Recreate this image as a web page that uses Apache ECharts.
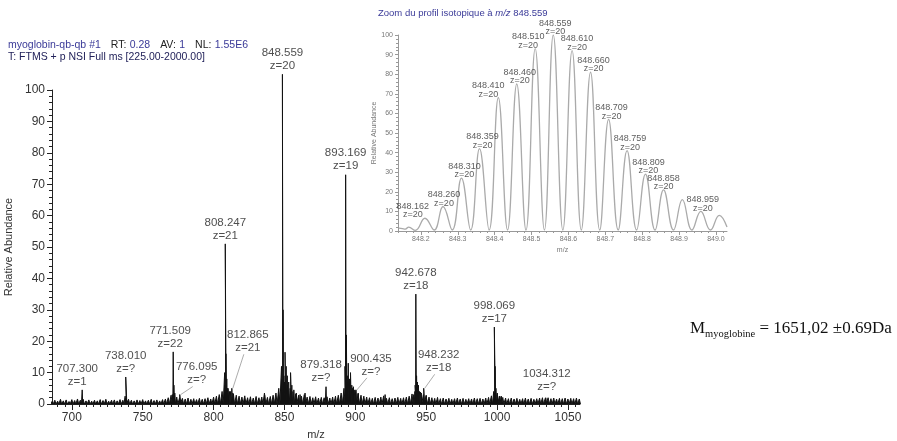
<!DOCTYPE html>
<html><head><meta charset="utf-8">
<script src="https://cdn.jsdelivr.net/npm/echarts@6/dist/echarts.min.js"></script>
<style>html,body{margin:0;padding:0;background:#fff}#c{width:897px;height:441px}</style>
</head><body><div id="c"></div>
<script>
// ---------- DATA ----------
// labelled peaks of the full spectrum (the base peak is drawn slightly above the 100 tick in the picture)
const labelledMz     = [707.300, 738.010, 771.509, 776.095, 808.247, 812.865, 848.559, 879.318, 893.169, 900.435, 942.678, 948.232, 998.069, 1034.312];
const labelledAbund  = [4.5, 8.6, 16.6, 3.0, 51.0, 5.0, 105, 5.5, 73.0, 4.5, 35.0, 5.0, 24.5, 2.0];
const labelledText   = ['707.300','738.010','771.509','776.095','808.247','812.865','848.559','879.318','893.169','900.435','942.678','948.232','998.069','1034.312'];
const labelledCharge = ['z=1','z=?','z=22','z=?','z=21','z=21','z=20','z=?','z=19','z=?','z=18','z=18','z=17','z=?'];
// unlabelled satellite peaks
const satelliteMz    = [737.6, 770.9, 772.0, 772.6, 807.8, 808.7, 809.3, 810.1, 811.2, 813.6, 835.9, 847.9, 849.0, 849.6, 850.4, 851.2, 852.0, 853.0, 854.3, 855.2, 856.6, 858.3, 861.0, 864.5, 892.7, 893.7, 894.3, 895.0, 895.8, 896.6, 897.5, 898.6, 899.6, 902.0, 921.0, 941.2, 942.2, 943.2, 943.8, 944.5, 945.3, 946.5, 950.0, 997.6, 998.6, 999.2, 1000.1, 1001.6, 1003.0];
const satelliteAbund = [2.5, 3.0, 6.0, 3.5, 10.0, 16.0, 8.0, 5.0, 4.0, 3.5, 3.5, 12.0, 30.0, 9.0, 16.5, 12.0, 9.0, 7.0, 10.0, 6.0, 4.5, 3.5, 3.0, 3.5, 12.0, 22.0, 9.0, 13.0, 8.0, 10.0, 6.0, 5.5, 4.5, 3.5, 3.0, 3.0, 6.0, 9.0, 7.0, 6.0, 4.0, 3.5, 2.8, 4.0, 12.0, 5.0, 3.5, 2.5, 2.5];
// baseline noise, sampled every 2 m/z from 686
const noiseFirstMz = 686, noiseStepMz = 2;
const noiseAbund = [
 0.8,1.2,0.9,1.5,1.0,1.3,0.8,1.4,1.1,1.6,
 1.2,1.5,1.0,1.3,0.9,1.2,1.0,1.4,1.1,1.5,
 0.9,1.2,1.3,1.0,1.4,1.2,1.8,1.5,1.2,1.0,
 1.3,1.1,1.4,1.0,1.2,1.5,1.1,1.3,1.0,1.4,
 1.6,2.0,2.8,3.0,2.2,2.0,1.8,1.6,1.9,1.5,
 1.7,1.4,1.8,1.5,1.7,2.0,1.6,2.2,2.5,3.0,
 4.0,6.0,5.0,4.0,3.2,2.8,2.5,2.2,2.6,2.0,
 2.3,1.9,2.4,2.0,2.2,3.0,2.1,2.4,2.8,3.5,
 5.0,8.0,7.0,6.0,5.0,4.0,3.2,2.8,2.5,3.0,
 2.2,2.4,2.0,2.3,1.9,2.1,2.0,2.3,1.9,2.2,
 2.5,2.8,3.5,5.0,7.0,6.0,5.0,4.0,3.2,2.8,
 2.5,2.2,2.0,1.8,2.1,1.9,2.2,2.6,1.8,2.0,
 1.7,1.9,2.1,1.8,2.0,2.2,2.5,3.2,4.0,5.0,
 3.8,3.0,2.6,2.2,2.0,1.8,2.1,1.7,1.9,1.6,
 1.8,1.5,1.7,1.9,1.6,1.8,1.5,1.7,1.6,1.9,
 1.7,1.8,1.6,1.9,2.1,2.6,3.5,3.0,2.4,2.1,
 1.9,1.7,1.9,1.6,1.8,1.5,1.7,1.9,1.6,1.8,
 1.5,1.7,1.9,2.0,1.8,2.0,1.7,1.9,1.6,1.8,
 1.7,1.9,1.6,1.8,1.7,1.9,1.6];
const mainXLabels = [700, 750, 800, 850, 900, 950, 1000, 1050];
const mainYLabels = [0, 10, 20, 30, 40, 50, 60, 70, 80, 90, 100];

// isotopic profile (inset): valleys and apexes
const insetMz    = [848.140, 848.150, 848.158, 848.167, 848.185, 848.211, 848.236, 848.260, 848.285, 848.310, 848.335, 848.359, 848.385, 848.410, 848.435, 848.460, 848.485, 848.510, 848.535, 848.559, 848.585, 848.610, 848.635, 848.660, 848.685, 848.709, 848.735, 848.759, 848.785, 848.809, 848.835, 848.858, 848.885, 848.909, 848.935, 848.959, 848.985, 849.009, 849.030];
const insetAbund = [1.5, 1.2, 1.0, 2.0, 0.3, 6.5, 0.5, 12.5, 0.5, 27, 0.5, 42, 0.5, 68, 0.5, 75, 0.5, 93, 0.5, 100, 0.5, 92, 0.5, 81, 0.5, 57, 0.5, 41, 0.5, 29, 0.5, 21, 0.5, 16, 0.5, 10, 0.5, 8, 2];
const insetLabelMz    = [848.162, 848.260, 848.310, 848.359, 848.410, 848.460, 848.510, 848.559, 848.610, 848.660, 848.709, 848.759, 848.809, 848.858, 848.959];
const insetLabelAbund = [6.5, 12.5, 27, 42, 68, 75, 93, 100, 92, 81, 57, 41, 29, 21, 10];
const insetLabelText  = ['848.162','848.260','848.310','848.359','848.410','848.460','848.510','848.559','848.610','848.660','848.709','848.759','848.809','848.858','848.959'];
const insetLabelCharge = 'z=20';
const insetXLabels = [848.2, 848.3, 848.4, 848.5, 848.6, 848.7, 848.8, 848.9, 849.0];
const insetYLabels = [0, 10, 20, 30, 40, 50, 60, 70, 80, 90, 100];

// ---------- LAYOUT / STYLE ----------
const FONT = 'Liberation Sans, Arial, sans-serif';
// pixel offsets of the main annotations [dx, dy] and whether a leader line is drawn
const mainLabelLayout = {
  '707.300':[-5,0,false], '738.010':[0,0,false], '771.509':[-3,0,false], '776.095':[17,-6,true],
  '808.247':[0,0,false], '812.865':[16,-32,true], '848.559':[0,0,false], '879.318':[-5,0,false],
  '893.169':[0,0,false], '900.435':[15,-10,true], '942.678':[0,0,false], '948.232':[15,-12,true],
  '998.069':[0,0,false], '1034.312':[1,-2,false]
};
const insetLabelDx = [6,1,3,3,-10,3,-7,2,5,3,3,3,3,0,2];

// build stick spectrum
const sticks = [];
labelledMz.forEach((m,i)=>sticks.push([m, labelledAbund[i], 0.35]));
satelliteMz.forEach((m,i)=>sticks.push([m, satelliteAbund[i], 0.35]));
noiseAbund.forEach((v,i)=>sticks.push([noiseFirstMz + i*noiseStepMz, v, 0.8]));
sticks.sort((a,b)=>a[0]-b[0]);
const mainLine = [];
sticks.forEach(s=>{ mainLine.push([s[0]-s[2],0],[s[0],s[1]],[s[0]+s[2],0]); });

const minorMain = []; for (let v=690; v<=1055; v+=5) minorMain.push(v);
const minorInset = []; for (let k=0; k<=44; k++) minorInset.push(+(848.14 + k*0.02).toFixed(2));

const mainGrid = {left:52, top:90, width:528, height:314};
const insetGrid = {left:398, top:35, width:329, height:196};

const axisColor = '#222';
const insetAxisColor = '#999';

const option = {
  animation:false,
  textStyle:{fontFamily:FONT},
  grid:[
    Object.assign({outerBoundsMode:'none', containLabel:false}, mainGrid),
    Object.assign({outerBoundsMode:'none', containLabel:false}, insetGrid)
  ],
  xAxis:[
    {type:'value', gridIndex:0, position:'bottom', offset:0, min:686, max:1058.5, splitLine:{show:false},
     axisLine:{onZero:false, lineStyle:{color:axisColor, width:1}},
     axisTick:{customValues:minorMain, length:3, lineStyle:{color:axisColor}},
     axisLabel:{show:false}},
    {type:'value', gridIndex:0, position:'bottom', offset:0, min:686, max:1058.5, splitLine:{show:false},
     axisLine:{show:false, onZero:false},
     axisTick:{customValues:mainXLabels, length:6, lineStyle:{color:axisColor}},
     axisLabel:{customValues:mainXLabels, formatter:v=>String(v), color:'#333', fontSize:12, fontFamily:FONT, margin:8},
     name:'m/z', nameLocation:'middle', nameGap:25, nameTextStyle:{color:'#333', fontSize:11, fontFamily:FONT}},
    {type:'value', gridIndex:1, position:'bottom', offset:0, min:848.138, max:849.03, splitLine:{show:false},
     axisLine:{onZero:false, lineStyle:{color:insetAxisColor, width:1}},
     axisTick:{customValues:minorInset, length:2, lineStyle:{color:insetAxisColor}},
     axisLabel:{show:false}},
    {type:'value', gridIndex:1, position:'bottom', offset:0, min:848.138, max:849.03, splitLine:{show:false},
     axisLine:{show:false, onZero:false},
     axisTick:{customValues:insetXLabels, length:4, lineStyle:{color:insetAxisColor}},
     axisLabel:{customValues:insetXLabels, formatter:v=>v.toFixed(1), color:'#777', fontSize:7, fontFamily:FONT, margin:5},
     name:'m/z', nameLocation:'middle', nameGap:16, nameTextStyle:{color:'#777', fontSize:7, fontFamily:FONT}}
  ],
  yAxis:[
    {type:'value', gridIndex:0, position:'left', min:0, max:100, interval:10, splitLine:{show:false},
     axisLine:{show:true, onZero:false, lineStyle:{color:axisColor, width:1}},
     axisTick:{show:true, length:5, lineStyle:{color:axisColor}},
     minorTick:{show:true, splitNumber:5, length:3, lineStyle:{color:axisColor}},
     axisLabel:{color:'#333', fontSize:12, fontFamily:FONT, margin:7},
     name:'Relative Abundance', nameLocation:'middle', nameGap:32, nameRotate:90,
     nameTextStyle:{color:'#333', fontSize:11, fontFamily:FONT}},
    {type:'value', gridIndex:1, position:'left', min:0, max:100, interval:10, splitLine:{show:false},
     axisLine:{show:true, onZero:false, lineStyle:{color:insetAxisColor, width:1}},
     axisTick:{show:true, length:3, lineStyle:{color:insetAxisColor}},
     minorTick:{show:true, splitNumber:5, length:2, lineStyle:{color:insetAxisColor}},
     axisLabel:{color:'#777', fontSize:7, fontFamily:FONT, margin:5},
     name:'Relative Abundance', nameLocation:'middle', nameGap:18, nameRotate:90,
     nameTextStyle:{color:'#777', fontSize:7, fontFamily:FONT}}
  ],
  series:[
    {type:'line', xAxisIndex:0, yAxisIndex:0, data:mainLine, symbol:'none', silent:true, clip:false,
     lineStyle:{color:'#111', width:1}, areaStyle:{color:'#111', opacity:1}, z:3},
    {type:'scatter', xAxisIndex:0, yAxisIndex:0, symbolSize:0, silent:true, z:5, clip:false,
     data: labelledMz.map((m,i)=>{ const L = mainLabelLayout[labelledText[i]];
       return {value:[m, labelledAbund[i]], label:{offset:[L[0], L[1]]}}; }),
     label:{show:true, position:'top', distance:2, color:'#222', fontSize:11.5, fontFamily:FONT, lineHeight:13, align:'center',
            formatter:p=>labelledText[p.dataIndex]+'\n'+labelledCharge[p.dataIndex]}},
    {type:'line', xAxisIndex:2, yAxisIndex:1, data:insetMz.map((m,i)=>[m, insetAbund[i]]), symbol:'none', silent:true,
     smooth:0.45, lineStyle:{color:'#aaa', width:1.3}, z:3},
    {type:'scatter', xAxisIndex:2, yAxisIndex:1, symbolSize:0, silent:true, z:5,
     data: insetLabelMz.map((m,i)=>({value:[m, insetLabelAbund[i]], label:{offset:[insetLabelDx[i], 1]}})),
     label:{show:true, position:'top', distance:0, color:'#333', fontSize:9, fontFamily:FONT, lineHeight:8.5, align:'center',
            formatter:p=>insetLabelText[p.dataIndex]+'\n'+insetLabelCharge}}
  ],
  graphic:[
    {type:'text', left:8, top:39, style:{
      text:'{a|myoglobin-qb-qb #1}   {k|RT:} {a|0.28}   {k|AV:} {a|1}   {k|NL:} {a|1.55E6}',
      rich:{a:{fill:'#3a3a98', fontSize:10.5, fontFamily:FONT}, k:{fill:'#222', fontSize:10.5, fontFamily:FONT}}}},
    {type:'text', left:8, top:52, style:{text:'T: FTMS + p NSI Full ms [225.00-2000.00]', fill:'#22225a', fontSize:10.5, fontFamily:FONT}},
    {type:'text', left:378, top:8, style:{
      text:'Zoom du profil isotopique à {i|m/z} 848.559',
      fill:'#3a3a98', fontSize:9.5, fontFamily:FONT,
      rich:{i:{fill:'#3a3a98', fontSize:9.5, fontStyle:'italic', fontFamily:FONT}}}},
    {type:'text', left:690, top:320, style:{
      text:'{m|M}{s|myoglobine}{m| = 1651,02 ±0.69Da}',
      rich:{m:{fill:'#111', fontSize:17, fontFamily:'Liberation Serif, serif', verticalAlign:'bottom'},
            s:{fill:'#111', fontSize:10.5, fontFamily:'Liberation Serif, serif', verticalAlign:'bottom', padding:[0,0,-3,0]}}}}
  ]
};

const chart = echarts.init(document.getElementById('c'), null, {renderer:'canvas'});
chart.setOption(option);

// leader lines from labels to their peaks
const leaders = [];
labelledMz.forEach((m,i)=>{
  const L = mainLabelLayout[labelledText[i]];
  if (!L[2]) return;
  const p = chart.convertToPixel({xAxisIndex:0, yAxisIndex:0}, [m, labelledAbund[i]]);
  leaders.push({type:'line', silent:true, z:10,
    shape:{x1:p[0]+L[0]-4, y1:p[1]+L[1]-2, x2:p[0]+1, y2:p[1]},
    style:{stroke:'#888', lineWidth:0.7}});
});
chart.setOption({graphic: option.graphic.concat(leaders)});
</script>
</body></html>
